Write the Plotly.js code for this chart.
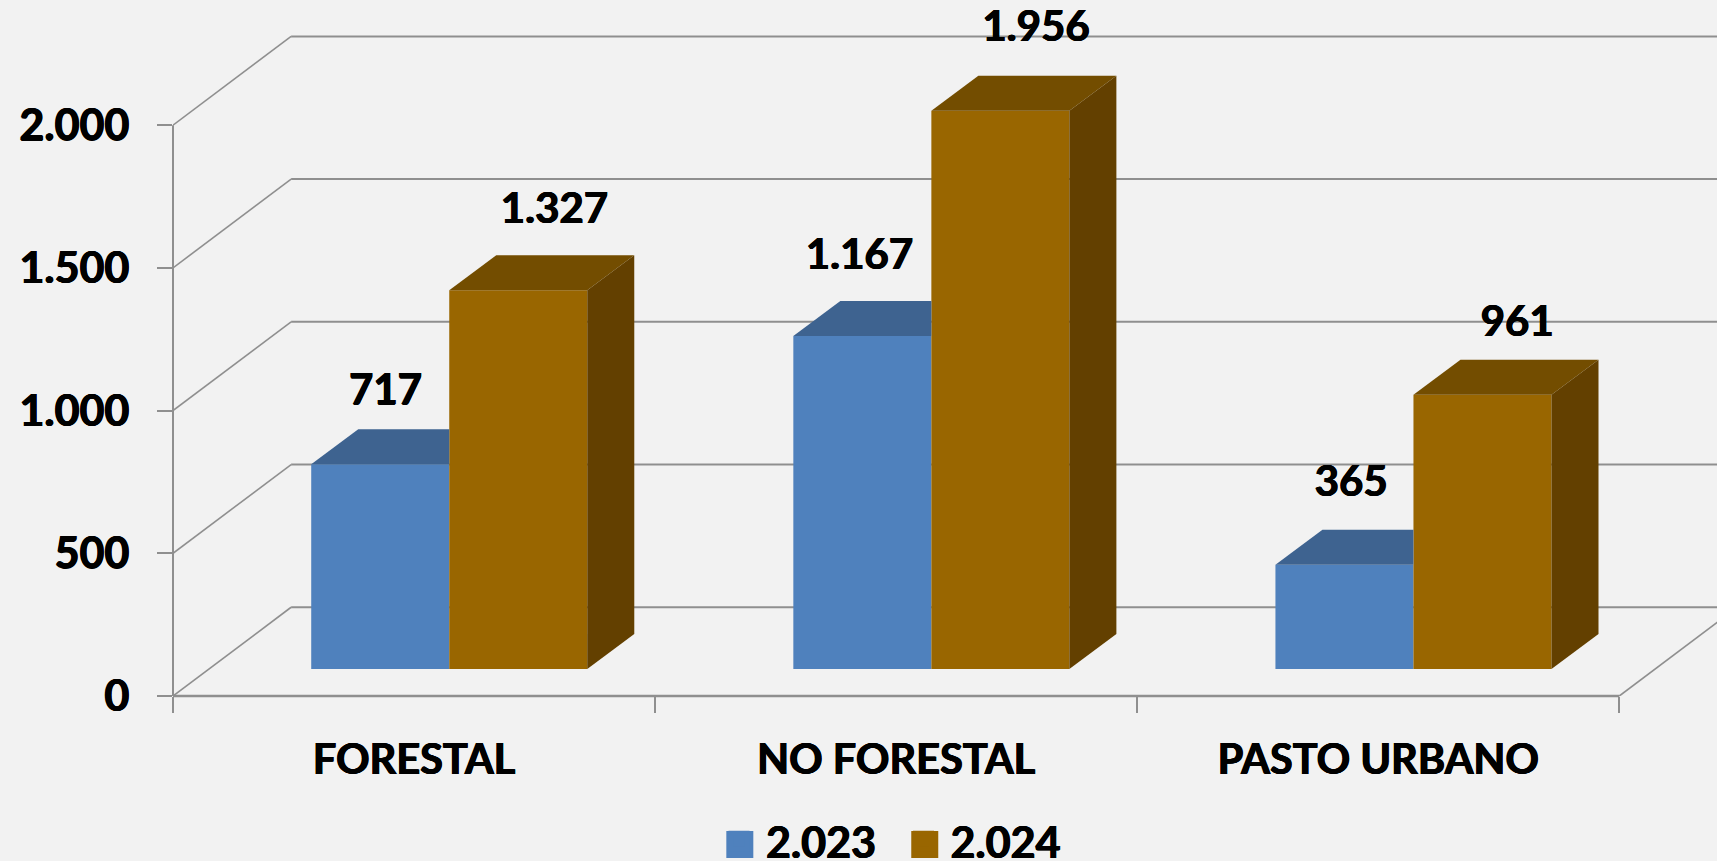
<!DOCTYPE html>
<html><head><meta charset="utf-8">
<script src="https://cdn.plot.ly/plotly-3.0.1.min.js"></script>
<style>html,body{margin:0;padding:0;background:#f2f2f2}#c{width:1717px;height:861px}</style>
</head><body><div id="c"></div>
<script>
const categories = ["FORESTAL", "NO FORESTAL", "PASTO URBANO"];
const series2023 = [717, 1167, 365];
const series2024 = [1327, 1956, 961];
const seriesNames = ["2.023", "2.024"];
const yTickVals = [0, 500, 1000, 1500, 2000];
const yTickText = ["0", "500", "1.000", "1.500", "2.000"];

// geometry of the pseudo-3D box, in axis units
const FONT = "Lato, sans-serif", GRID = "#8f8f8f", INK = "#000";
const HEAVY = "0.6px 0 0 #000, -0.6px 0 0 #000, 0 0.4px 0 #000";
const wallDX = 0.245, wallDY = 311, barStart = 0.2867, barW = 0.2863, barDX = 0.0975, barDY = 122.6, barBase = 94.6;
const BLUE = "#4f81bd", BLUE_TOP = "#3e6390", BROWN = "#996600", BROWN_TOP = "#734d00", BROWN_SIDE = "#634000";
const nudgeX = [[0.011, 0.075], [-0.006, 0.074], [0.014, 0.072]];
const nudgeY = [[247, 273], [273, 282], [279, 243]];
const fmt = v => String(v).replace(/\B(?=(\d{3})+$)/g, ".");

const catPos = categories.map((_, i) => i);
const shapes = [];
const seg = (x0, y0, x1, y1, extra) => shapes.push(Object.assign({type: "line", layer: "below", xref: "x", yref: "y", x0, y0, x1, y1, line: {color: GRID, width: 2}}, extra || {}));
yTickVals.forEach(v => {
  seg(0, v, wallDX, v + wallDY, {line: {color: GRID, width: 1.6}});
  seg(wallDX, v + wallDY, 3 + wallDX, v + wallDY);
});
seg(3, 0, 3 + wallDX, wallDY, {line: {color: GRID, width: 1.6}});
shapes.push({type: "line", layer: "below", xref: "paper", yref: "y", x0: 0, x1: 0, y0: 0, y1: 2000, line: {color: GRID, width: 2}});
shapes.push({type: "line", layer: "below", xref: "x", yref: "paper", x0: 0, x1: 3, y0: 0, y1: 0, line: {color: GRID, width: 2.4}});
// legend keys are enlarged to the reference's size behind the library's own swatches
const key = (px, color) => shapes.push({type: "rect", layer: "above", xref: "paper", yref: "paper", xsizemode: "pixel", ysizemode: "pixel",
  xanchor: (px - 172.5) / 1544.5, yanchor: (696 - 844.5) / 696, x0: -13.5, x1: 13.5, y0: -13.5, y1: 13.5, fillcolor: color, line: {width: 0}});
key(739.5, BLUE); key(924.5, BROWN);

const poly = (xs, ys, color) => ({type: "scatter", mode: "lines", x: xs, y: ys, fill: "toself", fillcolor: color, line: {width: 0, color}, hoverinfo: "skip", showlegend: false});
const faces = [];
catPos.forEach(i => {
  const a = i + barStart, b = a + barW, c = b + barW;
  const t1 = series2023[i] + barBase, t2 = series2024[i] + barBase;
  faces.push(poly([a, b, b, a + barDX, a], [t1, t1, t1 + barDY, t1 + barDY, t1], BLUE_TOP));
  faces.push(poly([b, c, c + barDX, b + barDX, b], [t2, t2, t2 + barDY, t2 + barDY, t2], BROWN_TOP));
  faces.push(poly([c, c + barDX, c + barDX, c, c], [barBase, barBase + barDY, t2 + barDY, t2, barBase], BROWN_SIDE));
});

const bar = (vals, off, color, name) => ({type: "bar", name, x: catPos.map(i => i + barStart + off + barW / 2), y: vals, base: barBase, width: barW, marker: {color}, showlegend: false, hoverinfo: "y"});

const labelX = [], labelY = [], labelT = [];
catPos.forEach(i => {
  [series2023, series2024].forEach((s, k) => {
    labelX.push(i + barStart + barW * (k + 0.5) + nudgeX[i][k]);
    labelY.push(s[i] + nudgeY[i][k] + barBase);
    labelT.push(fmt(s[i]));
  });
});
const labels = {type: "scatter", mode: "text", x: labelX, y: labelY, text: labelT, textposition: "middle center", textfont: {family: FONT, size: 42, color: INK, weight: 700, shadow: HEAVY}, cliponaxis: false, showlegend: false, hoverinfo: "skip"};

const legendTrace = (name, color) => ({type: "scatter", mode: "markers", name, x: [null], y: [null], marker: {symbol: "square", size: 16, color, line: {color, width: 5}}});

const data = [bar(series2023, 0, BLUE, seriesNames[0]), bar(series2024, barW, BROWN, seriesNames[1])]
  .concat(faces, [labels, legendTrace(seriesNames[0], BLUE), legendTrace(seriesNames[1], BROWN)]);

const layout = {
  width: 1717, height: 861, paper_bgcolor: "#f2f2f2", plot_bgcolor: "rgba(0,0,0,0)",
  margin: {l: 172.5, r: 0, t: 0, b: 165}, barmode: "overlay", showlegend: true, shapes,
  font: {family: FONT, color: INK, size: 40, weight: 700},
  xaxis: {type: "linear", range: [0, 3.2026], tickmode: "array", tickvals: catPos.map(i => i + 0.5), ticktext: categories,
    ticks: "", showgrid: false, zeroline: false, showline: false, ticklabelstandoff: 35,
    tickfont: {family: FONT, size: 41.5, color: INK, weight: 700, shadow: HEAVY},
    minor: {tickmode: "array", tickvals: [0, 1, 2, 3], ticks: "outside", ticklen: 16, tickwidth: 1.6, tickcolor: GRID, showgrid: false}},
  yaxis: {type: "linear", range: [0, 2438.6], tickmode: "array", tickvals: yTickVals, ticktext: yTickText,
    ticks: "outside", ticklen: 15, tickwidth: 1.6, tickcolor: GRID, showgrid: false, zeroline: false, showline: false, ticklabelstandoff: 19,
    tickfont: {family: FONT, size: 43, color: INK, weight: 700, shadow: HEAVY}},
  legend: {orientation: "h", x: 712 / 1717, xanchor: "left", xref: "container", y: 0.023, yref: "container", yanchor: "middle", itemwidth: 44, entrywidth: 125.5, entrywidthmode: "pixels",
    font: {family: FONT, size: 43, color: INK, weight: 700, shadow: HEAVY}, bgcolor: "rgba(0,0,0,0)", itemsizing: "trace"}
};
Plotly.newPlot("c", data, layout, {displayModeBar: false, responsive: false});
</script></body></html>
